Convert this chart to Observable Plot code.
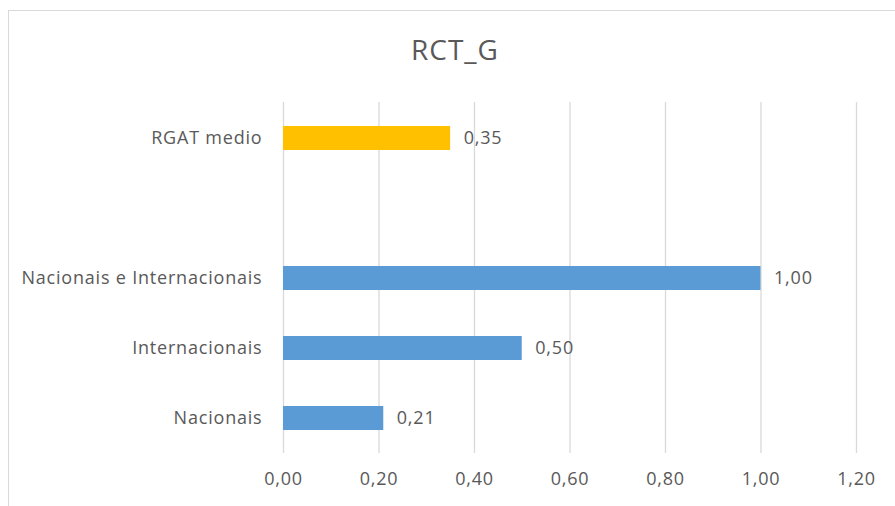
<!DOCTYPE html>
<html>
<head>
<meta charset="utf-8">
<script src="https://cdn.jsdelivr.net/npm/d3@7"></script>
<script src="https://cdn.jsdelivr.net/npm/@observablehq/plot@0.6"></script>
<style>
  html, body { margin: 0; padding: 0; background: #fff; overflow: hidden; }
  #frame { position: absolute; left: 8px; top: 10px; width: 960px; height: 600px; border: 1px solid #d9d9d9; box-sizing: border-box; }
  #title { position: absolute; left: 0; width: 910px; top: 29px; text-align: center; font-family: "Open Sans", sans-serif; font-size: 28px; line-height: 40px; letter-spacing: 1px; color: #595959; margin: 0; font-weight: normal; }
  #chart { position: absolute; left: 0; top: 0; }
  #chart svg text { letter-spacing: 0.8px; }
</style>
</head>
<body>
<div id="frame"></div>
<h2 id="title">RCT_G</h2>
<div id="chart"></div>
<script>
const categories = ["RGAT medio", " ", "Nacionais e Internacionais", "Internacionais", "Nacionais"];
const barCategories = ["RGAT medio", "Nacionais e Internacionais", "Internacionais", "Nacionais"];
const values = [0.35, 1.00, 0.50, 0.21];
const barColors = ["#ffc000", "#5b9bd5", "#5b9bd5", "#5b9bd5"];
const xTicks = [0, 0.2, 0.4, 0.6, 0.8, 1.0, 1.2];

const data = barCategories.map((c, i) => ({cat: c, value: values[i], color: barColors[i]}));
const fmt = v => d3.format(".2f")(v).replace(".", ",");

const chart = Plot.plot({
  width: 895,
  height: 506,
  marginLeft: 283,
  marginRight: 39,
  marginTop: 102,
  marginBottom: 53,
  style: { fontFamily: "Open Sans, sans-serif", fontSize: "18px", color: "#595959", background: "transparent" },
  x: { domain: [0, 1.2], ticks: xTicks, tickFormat: fmt, tickSize: 0, tickPadding: 19, label: null },
  y: { domain: categories, padding: 0, tickSize: 0, tickPadding: 21, label: null },
  marks: [
    Plot.ruleX(xTicks, { stroke: "#d9d9d9", strokeWidth: 1.3 }),
    Plot.barX(data, { x: "value", y: "cat", fill: "color", insetTop: 23, insetBottom: 23 }),
    Plot.text(data, { x: "value", y: "cat", text: d => fmt(d.value), textAnchor: "start", dx: 13, fill: "#595959", fontSize: 18 })
  ]
});
document.getElementById("chart").appendChild(chart);
</script>
</body>
</html>
